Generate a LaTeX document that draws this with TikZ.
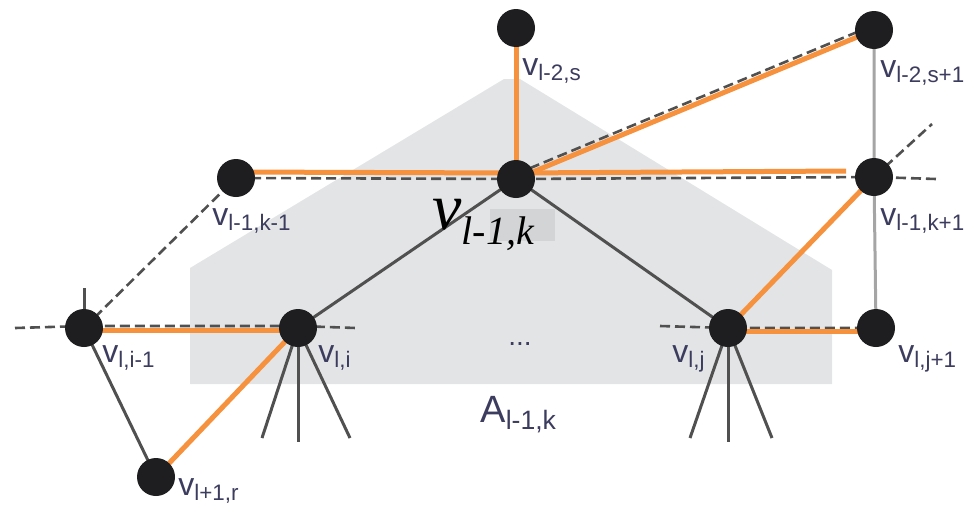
\documentclass[tikz,border=0pt]{standalone}
\usepackage{fontspec}
\setmainfont{Liberation Sans}
\newfontfamily\bigserif{Liberation Serif}
\usetikzlibrary{calc,backgrounds}
\definecolor{PathOrange}{RGB}{246,146,62}
\definecolor{RegionGray}{RGB}{227,228,230}
\definecolor{PatchGray}{RGB}{210,212,214}
\definecolor{EdgeGray}{RGB}{80,80,80}
\definecolor{LinkGray}{RGB}{165,165,165}
\definecolor{DotBlack}{RGB}{30,30,32}
\definecolor{LabelInk}{RGB}{60,60,95}
\tikzset{
  vertex/.style={circle,fill=DotBlack,inner sep=0pt,minimum size=19pt},
  vlabel/.style={anchor=base west,inner sep=0pt,text=LabelInk,font=\fontsize{16}{16}\selectfont},
  treeedge/.style={draw=EdgeGray,line width=1.5pt},
  sideedge/.style={draw=LinkGray,line width=1.5pt},
  crossedge/.style={draw=EdgeGray,line width=1.3pt,dash pattern=on 5pt off 2.5pt},
  pathedge/.style={draw=PathOrange,line width=2.5pt}
}

\begin{document}
\begin{tikzpicture}[x=0.5pt,y=-0.5pt]
\useasboundingbox (0,0) rectangle (972,504);

% vertices
\node[vertex] (top) at (516,28) {};
\node[vertex] (topr) at (874,30) {};
\node[vertex] (midl) at (236,178) {};
\node[vertex] (mid) at (516,179) {};
\node[vertex] (midr) at (874,177) {};
\node[vertex] (lowll) at (84,328) {};
\node[vertex] (lowl) at (298,328) {};
\node[vertex] (lowr) at (728,328) {};
\node[vertex] (lowrr) at (876,328) {};
\node[vertex] (leaf) at (156,477) {};

% loose ends
\coordinate (llup) at (84,288);
\coordinate (llleft) at (15,328);
\coordinate (lright) at (356,328);
\coordinate (rleft) at (660,326);
\coordinate (mrright) at (936,179);
\coordinate (mrup) at (932,124);
\coordinate (lc1) at (262,438);
\coordinate (lc2) at (298,442);
\coordinate (lc3) at (350,438);
\coordinate (rc1) at (690,438);
\coordinate (rc2) at (728,442);
\coordinate (rc3) at (772,438);

\begin{scope}[on background layer]
\fill[RegionGray] (190,384) -- (190,268) -- (504,79) -- (520,79) -- (832,270) -- (832,384) -- cycle;
\fill[PatchGray] (490,209) rectangle (555,241);

\draw[sideedge] (topr.center) -- (midr.center) -- (lowrr.center);
\draw[treeedge] (mid.center) -- (lowl.center);
\draw[treeedge] (mid.center) -- (lowr.center);
\draw[treeedge] (lowll.center) -- (leaf.center);
\draw[treeedge] (lowll.center) -- (llup);
\foreach \c in {lc1,lc2,lc3} \draw[treeedge] (lowl.center) -- (\c);
\foreach \c in {rc1,rc2,rc3} \draw[treeedge] (lowr.center) -- (\c);

\draw[crossedge] (midl.center) -- (mid.center) -- (midr.center) -- (mrright);
\draw[crossedge] (midr.center) -- (mrup);
\draw[crossedge] ($(mid.center)+(0,-5)$) -- ($(topr.center)+(0,-5)$);
\draw[crossedge] (lowll.center) -- (midl.center);
\draw[crossedge] (llleft) -- ($(lowll.center)+(0,-2)$) -- ($(lowl.center)+(0,-2)$) -- (lright);
\draw[crossedge] (rleft) -- (lowr.center) -- (lowrr.center);

\draw[pathedge] (top.center) -- (mid.center);
\draw[pathedge] (mid.center) -- (topr.center);
\draw[pathedge] ($(midl.center)+(0,-6)$) -- ($(mid.center)+(0,-6)$);
\draw[pathedge] ($(mid.center)+(0,-6)$) -- ($(midr.center)+(-28,-6)$);
\draw[pathedge] (midr.center) -- (lowr.center);
\draw[pathedge] ($(lowr.center)+(0,3)$) -- ($(lowrr.center)+(0,3)$);
\draw[pathedge] ($(lowll.center)+(0,2)$) -- ($(lowl.center)+(0,2)$);
\draw[pathedge] (lowl.center) -- (leaf.center);
\end{scope}

% labels
\node[vlabel] (topl) at (522,75) {v\textsubscript{l-2,s}};
\node[vlabel] (toprl) at (880,77) {v\textsubscript{l-2,s+1}};
\node[vlabel] (midll) at (212,225) {v\textsubscript{l-1,k-1}};
\node[vlabel] (midrl) at (880,225) {v\textsubscript{l-1,k+1}};
\node[vlabel] (lowlll) at (102,362) {v\textsubscript{l,i-1}};
\node[vlabel] (lowll2) at (318,362) {v\textsubscript{l,i}};
\node[vlabel] (lowrl) at (672,362) {v\textsubscript{l,j}};
\node[vlabel] (lowrrl) at (898,362) {v\textsubscript{l,j+1}};
\node[vlabel] (leafl) at (178,495) {v\textsubscript{l+1,r}};
\node[text=LabelInk,inner sep=0pt,font=\fontsize{14}{14}\selectfont] (dots) at (520,344) {...};
\node[vlabel,font=\fontsize{19}{19}\selectfont] (areal) at (480,422) {A\textsubscript{l-1,k}};
\node[anchor=base west,inner sep=0pt,font=\bigserif\itshape] (midlbl) at (432,229)
  {\fontsize{33}{33}\selectfont v\raisebox{-7.5pt}{\fontsize{20}{20}\selectfont l-1,k}};
\end{tikzpicture}
\end{document}
